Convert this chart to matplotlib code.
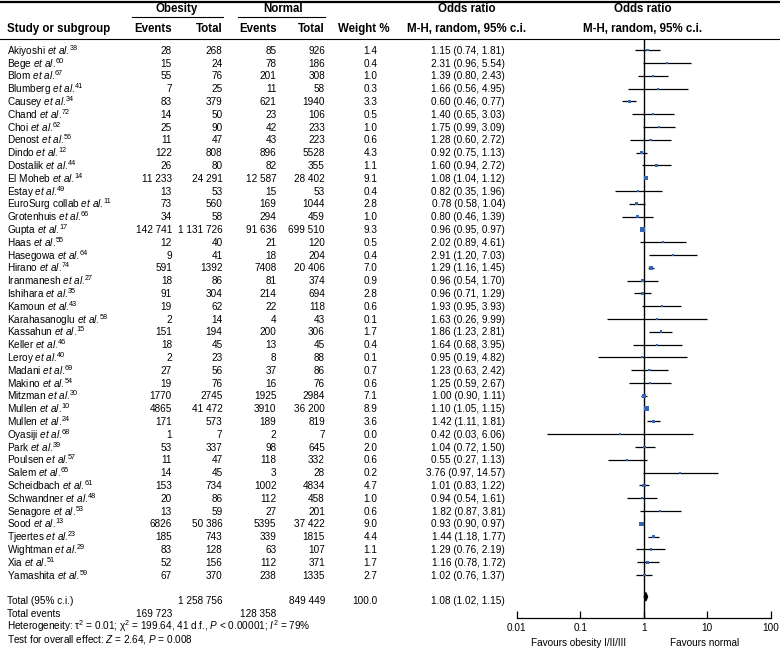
import numpy as np
import matplotlib.pyplot as plt
from matplotlib.patches import Polygon

plt.rcParams["font.family"] = ["Liberation Sans", "DejaVu Sans"]
plt.rcParams["mathtext.fontset"] = "custom"
plt.rcParams["mathtext.rm"] = "Liberation Sans"
plt.rcParams["mathtext.it"] = "Liberation Sans:italic"
plt.rcParams["mathtext.bf"] = "Liberation Sans:bold"

# ---- data ----
names = ["Akiyoshi", "Bege", "Blom", "Blumberg", "Causey", "Chand", "Choi", "Denost",
         "Dindo", "Dostalik", "El Moheb", "Estay", "EuroSurg collab", "Grotenhuis",
         "Gupta", "Haas", "Hasegowa", "Hirano", "Iranmanesh", "Ishihara", "Kamoun",
         "Karahasanoglu", "Kassahun", "Keller", "Leroy", "Madani", "Makino", "Mitzman",
         "Mullen", "Mullen", "Oyasiji", "Park", "Poulsen", "Salem", "Scheidbach",
         "Schwandner", "Senagore", "Sood", "Tjeertes", "Wightman", "Xia", "Yamashita"]
refs = [38, 60, 67, 41, 34, 72, 62, 56, 12, 44, 14, 49, 11, 66, 17, 55, 64, 74, 27, 35,
        43, 58, 15, 46, 40, 69, 54, 30, 10, 24, 68, 39, 57, 65, 61, 48, 53, 13, 23, 29,
        51, 59]
ob_events = [28, 15, 55, 7, 83, 14, 25, 11, 122, 26, 11233, 13, 73, 34, 142741, 12, 9,
             591, 18, 91, 19, 2, 151, 18, 2, 27, 19, 1770, 4865, 171, 1, 53, 11, 14, 153,
             20, 13, 6826, 185, 83, 52, 67]
ob_total = [268, 24, 76, 25, 379, 50, 90, 47, 808, 80, 24291, 53, 560, 58, 1131726, 40,
            41, 1392, 86, 304, 62, 14, 194, 45, 23, 56, 76, 2745, 41472, 573, 7, 337, 47,
            45, 734, 86, 59, 50386, 743, 128, 156, 370]
no_events = [85, 78, 201, 11, 621, 23, 42, 43, 896, 82, 12587, 15, 169, 294, 91636, 21,
             18, 7408, 81, 214, 22, 4, 200, 13, 8, 37, 16, 1925, 3910, 189, 2, 98, 118, 3,
             1002, 112, 27, 5395, 339, 63, 112, 238]
no_total = [926, 186, 308, 58, 1940, 106, 233, 223, 5528, 355, 28402, 53, 1044, 459,
            699510, 120, 204, 20406, 374, 694, 118, 43, 306, 45, 88, 86, 76, 2984, 36200,
            819, 7, 645, 332, 28, 4834, 458, 201, 37422, 1815, 107, 371, 1335]
weight = [1.4, 0.4, 1.0, 0.3, 3.3, 0.5, 1.0, 0.6, 4.3, 1.1, 9.1, 0.4, 2.8, 1.0, 9.3, 0.5,
          0.4, 7.0, 0.9, 2.8, 0.6, 0.1, 1.7, 0.4, 0.1, 0.7, 0.6, 7.1, 8.9, 3.6, 0.0, 2.0,
          0.6, 0.2, 4.7, 1.0, 0.6, 9.0, 4.4, 1.1, 1.7, 2.7]
odds = [1.15, 2.31, 1.39, 1.66, 0.60, 1.40, 1.75, 1.28, 0.92, 1.60, 1.08, 0.82, 0.78, 0.80,
        0.96, 2.02, 2.91, 1.29, 0.96, 0.96, 1.93, 1.63, 1.86, 1.64, 0.95, 1.23, 1.25, 1.00,
        1.10, 1.42, 0.42, 1.04, 0.55, 3.76, 1.01, 0.94, 1.82, 0.93, 1.44, 1.29, 1.16, 1.02]
ci_lo = [0.74, 0.96, 0.80, 0.56, 0.46, 0.65, 0.99, 0.60, 0.75, 0.94, 1.04, 0.35, 0.58, 0.46,
         0.95, 0.89, 1.20, 1.16, 0.54, 0.71, 0.95, 0.26, 1.23, 0.68, 0.19, 0.63, 0.59, 0.90,
         1.05, 1.11, 0.03, 0.72, 0.27, 0.97, 0.83, 0.54, 0.87, 0.90, 1.18, 0.76, 0.78, 0.76]
ci_hi = [1.81, 5.54, 2.43, 4.95, 0.77, 3.03, 3.09, 2.72, 1.13, 2.72, 1.12, 1.96, 1.04, 1.39,
         0.97, 4.61, 7.03, 1.45, 1.70, 1.29, 3.93, 9.99, 2.81, 3.95, 4.82, 2.42, 2.67, 1.11,
         1.15, 1.81, 6.06, 1.50, 1.13, 14.57, 1.22, 1.61, 3.81, 0.97, 1.77, 2.19, 1.72, 1.37]

total_ob, total_no = 1258756, 849449
total_ev_ob, total_ev_no = 169723, 128358
total_weight = 100.0
total_or, total_lo, total_hi = 1.08, 1.02, 1.15

xticks = [0.01, 0.1, 1, 10, 100]
xticklabels = ["0.01", "0.1", "1", "10", "100"]


def fmt(n):
    if n >= 10000:
        return f"{n:,}".replace(",", " ")
    return str(n)


# ---- layout (pixel units) ----
W, H = 780, 657
fig = plt.figure(figsize=(W / 100, H / 100), dpi=100)
bg = fig.add_axes([0, 0, 1, 1])
bg.set_xlim(0, W); bg.set_ylim(H, 0); bg.axis("off")

row0, dy = 50.2, 12.8
base = 3.6  # centre of caps -> baseline
def ypx(r): return row0 + r * dy + base

fs, fsh = 7.2, 8.3
x_name, x_ev1, x_tot1, x_ev2, x_tot2, x_w, x_or = 7, 172, 222.5, 276.5, 325, 377.5, 505

def cell(x, y, s, ha="right"):
    return bg.text(x, y, s, ha=ha, va="baseline", fontsize=fs)

# header rules
bg.plot([0, W], [1.5, 1.5], color="black", lw=1.6)
bg.plot([132, 223], [16.5, 16.5], color="black", lw=0.8)
bg.plot([238, 325], [16.5, 16.5], color="black", lw=0.8)
bg.plot([0, W], [38.5, 38.5], color="black", lw=0.8)

hd = dict(va="center", fontsize=fsh, fontweight="bold")
bg.text(177, 9, "Obesity", ha="center", **hd)
bg.text(283, 9, "Normal", ha="center", **hd)
bg.text(467, 9, "Odds ratio", ha="center", **hd)
bg.text(643, 9, "Odds ratio", ha="center", **hd)
hy = 29
bg.text(x_name, hy, "Study or subgroup", ha="left", **hd)
bg.text(x_ev1, hy, "Events", ha="right", **hd)
bg.text(x_tot1, hy, "Total", ha="right", **hd)
bg.text(x_ev2, hy, "Events", ha="right", **hd)
bg.text(x_tot2, hy, "Total", ha="right", **hd)
bg.text(390, hy, "Weight %", ha="right", **hd)
bg.text(467, hy, "M-H, random, 95% c.i.", ha="center", **hd)
bg.text(643, hy, "M-H, random, 95% c.i.", ha="center", **hd)

for i in range(len(names)):
    y = ypx(i)
    t = cell(x_name, y, names[i] + r" $\mathit{et\ al.}$", ha="left")
    # reference number, raised from the same baseline, just after the name
    bg.annotate(str(refs[i]), xy=(1, y), xycoords=(t, "data"), xytext=(-0.3, 2.9),
                textcoords="offset points", ha="left", va="baseline", fontsize=5.2)
    cell(x_ev1, y, fmt(ob_events[i]))
    cell(x_tot1, y, fmt(ob_total[i]))
    cell(x_ev2, y, fmt(no_events[i]))
    cell(x_tot2, y, fmt(no_total[i]))
    cell(x_w, y, f"{weight[i]:.1f}")
    cell(x_or, y, f"{odds[i]:.2f} ({ci_lo[i]:.2f}, {ci_hi[i]:.2f})")

n = len(names)
yt = ypx(n + 1)
cell(x_name, yt, "Total (95% c.i.)", ha="left")
cell(x_tot1, yt, fmt(total_ob))
cell(x_tot2, yt, fmt(total_no))
cell(x_w, yt, f"{total_weight:.1f}")
cell(x_or, yt, f"{total_or:.2f} ({total_lo:.2f}, {total_hi:.2f})")
cell(x_name, ypx(n + 2), "Total events", ha="left")
cell(x_ev1, ypx(n + 2), fmt(total_ev_ob))
cell(x_ev2, ypx(n + 2), fmt(total_ev_no))
cell(x_name, ypx(n + 3),
     r"Heterogeneity: $\mathrm{\tau}^2$ = 0.01; $\mathrm{\chi}^2$ = 199.64, 41 d.f., "
     r"$P$ < 0.00001; $I^2$ = 79%", ha="left")
cell(x_name, ypx(n + 4), r"Test for overall effect: $Z$ = 2.64, $P$ = 0.008", ha="left")

# ---- forest plot ----
x0, x1 = 516.7, 770.7
ytop, ybot = 40, 617.7
ax = fig.add_axes([x0 / W, 1 - ybot / H, (x1 - x0) / W, (ybot - ytop) / H])
ax.set_xscale("log")
ax.set_xlim(0.01, 100)
ax.set_ylim((ybot - row0) / dy, (ytop - row0) / dy)
ax.patch.set_alpha(0)

rows = np.arange(n)
ax.hlines(rows, ci_lo, ci_hi, color="black", lw=0.9)
ax.scatter(odds, rows, s=2 + 0.9 * np.array(weight), marker="s",
           color="#3566ad", linewidths=0, zorder=3)
ax.axvline(1, color="black", lw=1)

rt = n + 0.7
dh = 0.33
ax.add_patch(Polygon([(total_lo, rt), (total_or, rt - dh), (total_hi, rt), (total_or, rt + dh)],
                     closed=True, color="black", zorder=4))

for s in ["top", "left", "right"]:
    ax.spines[s].set_visible(False)
ax.spines["bottom"].set_linewidth(0.9)
ax.set_yticks([])
ax.set_xticks(xticks)
ax.set_xticklabels(xticklabels)
ax.minorticks_off()
ax.tick_params(axis="x", direction="in", length=5, width=0.9, labelsize=fs, pad=3.5)

bg.text(579, 643, "Favours obesity I/II/III", ha="center", va="center", fontsize=fs)
bg.text(705, 643, "Favours normal", ha="center", va="center", fontsize=fs)

fig.savefig("out.png", dpi=100)
